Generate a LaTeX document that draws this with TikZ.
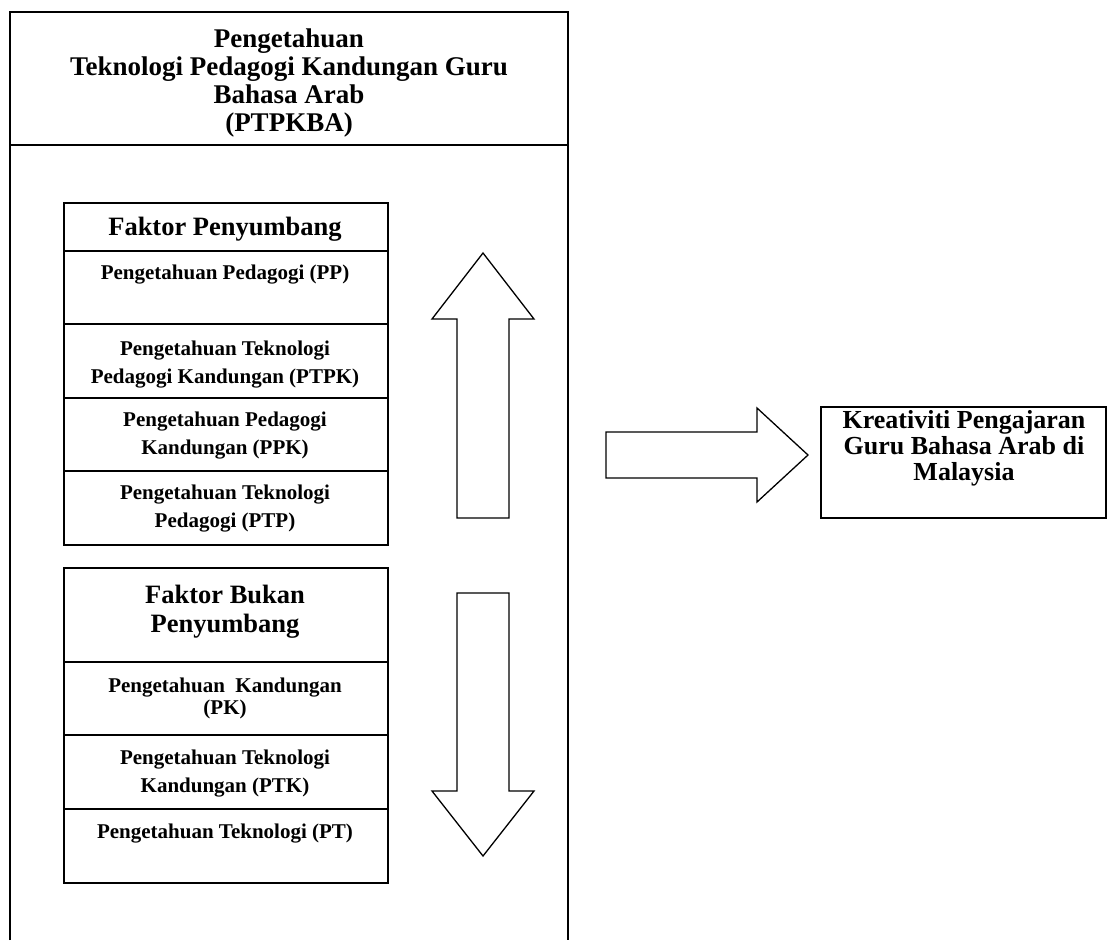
\documentclass[tikz,border=0pt]{standalone}
\usepackage{fontspec}
\setmainfont{Liberation Serif}
\begin{document}
\begin{tikzpicture}[x=1pt,y=-1pt,
  frame/.style={line width=1.6pt},
  cell/.style={draw, line width=1.6pt, anchor=north west, inner sep=0pt, minimum width=324pt},
  outbox/.style={draw, line width=2.4pt, anchor=north west, inner sep=0pt, minimum width=285pt, minimum height=111pt},
  bigtext/.style={font=\fontsize{27}{28}\selectfont\bfseries, align=center, anchor=base},
  headtext/.style={font=\fontsize{26.5}{29}\selectfont\bfseries, align=center, anchor=base},
  smalltext/.style={font=\fontsize{21}{27.5}\selectfont\bfseries, align=center, anchor=base},
  outtext/.style={font=\fontsize{26}{26}\selectfont\bfseries, align=center, anchor=base},
  blockarrow/.style={draw, line width=1.3pt, line join=miter}
]
\useasboundingbox (0,0) rectangle (1107,940);

% outer frame, open at the bottom, with the title band
% (text nodes are placed by the baseline of their last line)
\draw[frame] (10,940) -- (10,12) -- (568,12) -- (568,940);
\draw[frame] (10,145) -- (568,145);
\node[bigtext] (title) at (289,131)
  {Pengetahuan\\Teknologi Pedagogi Kandungan Guru\\Bahasa Arab\\(PTPKBA)};

% contributing factors
\node[cell, minimum height=48pt] (fphead) at (63,202) {};
\node[cell, minimum height=73pt] (pp)     at (63,250) {};
\node[cell, minimum height=74pt] (ptpk)   at (63,323) {};
\node[cell, minimum height=73pt] (ppk)    at (63,397) {};
\node[cell, minimum height=74pt] (ptp)    at (63,470) {};
\node[headtext]  (fplabel)   at (225,235) {Faktor Penyumbang};
\node[smalltext] (pplabel)   at (225,279) {Pengetahuan Pedagogi (PP)};
\node[smalltext] (ptpklabel) at (225,383) {Pengetahuan Teknologi\\Pedagogi Kandungan (PTPK)};
\node[smalltext] (ppklabel)  at (225,454) {Pengetahuan Pedagogi\\Kandungan (PPK)};
\node[smalltext] (ptplabel)  at (225,527) {Pengetahuan Teknologi\\Pedagogi (PTP)};

% non-contributing factors
\node[cell, minimum height=94pt] (fbhead) at (63,567) {};
\node[cell, minimum height=73pt] (pk)     at (63,661) {};
\node[cell, minimum height=74pt] (ptk)    at (63,734) {};
\node[cell, minimum height=74pt] (pt)     at (63,808) {};
\node[headtext]  (fblabel)  at (225,632) {Faktor Bukan\\Penyumbang};
\node[smalltext] (pklabel)  at (225,714.5) {Pengetahuan\ \ Kandungan\\[-5pt](PK)};
\node[smalltext] (ptklabel) at (225,792) {Pengetahuan Teknologi\\Kandungan (PTK)};
\node[smalltext] (ptlabel)  at (225,838) {Pengetahuan Teknologi (PT)};

% outcome
\node[outbox] (outcome) at (820,406) {};
\node[outtext] (outlabel) at (964,480) {Kreativiti Pengajaran\\Guru Bahasa Arab di\\Malaysia};

% block arrows
\draw[blockarrow] (483,253) -- (534,319) -- (509,319) -- (509,518) -- (457,518)
  -- (457,319) -- (432,319) -- cycle;
\draw[blockarrow] (483,856) -- (534,791) -- (509,791) -- (509,593) -- (457,593)
  -- (457,791) -- (432,791) -- cycle;
\draw[blockarrow] (808,455) -- (757,408) -- (757,432) -- (606,432) -- (606,478)
  -- (757,478) -- (757,502) -- cycle;
\end{tikzpicture}
\end{document}
